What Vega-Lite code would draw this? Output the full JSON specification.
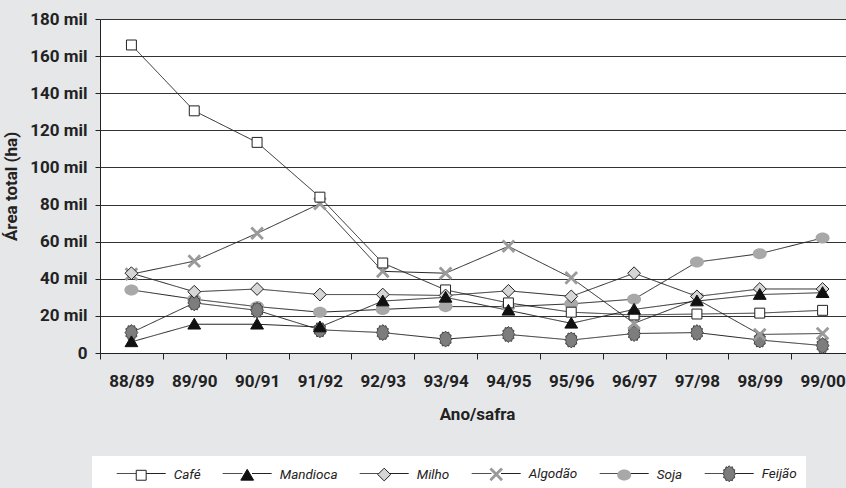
{
  "$schema": "https://vega.github.io/schema/vega-lite/v6.json",
  "width": 746,
  "height": 334,
  "autosize": {"type": "none"},
  "padding": {"left": 100, "top": 19, "right": 0, "bottom": 135},
  "background": "#e6e7e9",
  "config": {
    "view": {"fill": "white", "stroke": null},
    "font": "Roboto, sans-serif"
  },
  "data": {
    "values": [
      {"safra": "88/89", "cultura": "Soja", "area": 34},
      {"safra": "89/90", "cultura": "Soja", "area": 29},
      {"safra": "90/91", "cultura": "Soja", "area": 25},
      {"safra": "91/92", "cultura": "Soja", "area": 22},
      {"safra": "92/93", "cultura": "Soja", "area": 23.5},
      {"safra": "93/94", "cultura": "Soja", "area": 25},
      {"safra": "94/95", "cultura": "Soja", "area": 25},
      {"safra": "95/96", "cultura": "Soja", "area": 26.5},
      {"safra": "96/97", "cultura": "Soja", "area": 29},
      {"safra": "97/98", "cultura": "Soja", "area": 49},
      {"safra": "98/99", "cultura": "Soja", "area": 53.5},
      {"safra": "99/00", "cultura": "Soja", "area": 62},
      {"safra": "88/89", "cultura": "Feijão", "area": 11},
      {"safra": "89/90", "cultura": "Feijão", "area": 27},
      {"safra": "90/91", "cultura": "Feijão", "area": 23},
      {"safra": "91/92", "cultura": "Feijão", "area": 12.5},
      {"safra": "92/93", "cultura": "Feijão", "area": 11},
      {"safra": "93/94", "cultura": "Feijão", "area": 7.5},
      {"safra": "94/95", "cultura": "Feijão", "area": 10},
      {"safra": "95/96", "cultura": "Feijão", "area": 7},
      {"safra": "96/97", "cultura": "Feijão", "area": 10.5},
      {"safra": "97/98", "cultura": "Feijão", "area": 11},
      {"safra": "98/99", "cultura": "Feijão", "area": 7},
      {"safra": "99/00", "cultura": "Feijão", "area": 4},
      {"safra": "88/89", "cultura": "Algodão", "area": 42.5},
      {"safra": "89/90", "cultura": "Algodão", "area": 49.5},
      {"safra": "90/91", "cultura": "Algodão", "area": 64.5},
      {"safra": "91/92", "cultura": "Algodão", "area": 80.5},
      {"safra": "92/93", "cultura": "Algodão", "area": 44},
      {"safra": "93/94", "cultura": "Algodão", "area": 43},
      {"safra": "94/95", "cultura": "Algodão", "area": 57.5},
      {"safra": "95/96", "cultura": "Algodão", "area": 40.5},
      {"safra": "96/97", "cultura": "Algodão", "area": 16},
      {"safra": "97/98", "cultura": "Algodão", "area": 29},
      {"safra": "98/99", "cultura": "Algodão", "area": 10},
      {"safra": "99/00", "cultura": "Algodão", "area": 10.5},
      {"safra": "88/89", "cultura": "Café", "area": 166},
      {"safra": "89/90", "cultura": "Café", "area": 130.5},
      {"safra": "90/91", "cultura": "Café", "area": 113.5},
      {"safra": "91/92", "cultura": "Café", "area": 84},
      {"safra": "92/93", "cultura": "Café", "area": 48.5},
      {"safra": "93/94", "cultura": "Café", "area": 34},
      {"safra": "94/95", "cultura": "Café", "area": 27},
      {"safra": "95/96", "cultura": "Café", "area": 22},
      {"safra": "96/97", "cultura": "Café", "area": 20.5},
      {"safra": "97/98", "cultura": "Café", "area": 21},
      {"safra": "98/99", "cultura": "Café", "area": 21.5},
      {"safra": "99/00", "cultura": "Café", "area": 23},
      {"safra": "88/89", "cultura": "Milho", "area": 43},
      {"safra": "89/90", "cultura": "Milho", "area": 33},
      {"safra": "90/91", "cultura": "Milho", "area": 34.5},
      {"safra": "91/92", "cultura": "Milho", "area": 31.5},
      {"safra": "92/93", "cultura": "Milho", "area": 31.5},
      {"safra": "93/94", "cultura": "Milho", "area": 31},
      {"safra": "94/95", "cultura": "Milho", "area": 33.5},
      {"safra": "95/96", "cultura": "Milho", "area": 30.5},
      {"safra": "96/97", "cultura": "Milho", "area": 43},
      {"safra": "97/98", "cultura": "Milho", "area": 30.5},
      {"safra": "98/99", "cultura": "Milho", "area": 34.5},
      {"safra": "99/00", "cultura": "Milho", "area": 34.5},
      {"safra": "88/89", "cultura": "Mandioca", "area": 6},
      {"safra": "89/90", "cultura": "Mandioca", "area": 15.5},
      {"safra": "90/91", "cultura": "Mandioca", "area": 15.5},
      {"safra": "91/92", "cultura": "Mandioca", "area": 14},
      {"safra": "92/93", "cultura": "Mandioca", "area": 28},
      {"safra": "93/94", "cultura": "Mandioca", "area": 30},
      {"safra": "94/95", "cultura": "Mandioca", "area": 23},
      {"safra": "95/96", "cultura": "Mandioca", "area": 16},
      {"safra": "96/97", "cultura": "Mandioca", "area": 23.5},
      {"safra": "97/98", "cultura": "Mandioca", "area": 28},
      {"safra": "98/99", "cultura": "Mandioca", "area": 31.5},
      {"safra": "99/00", "cultura": "Mandioca", "area": 32.5}
    ]
  },
  "encoding": {
    "x": {
      "field": "safra",
      "type": "ordinal",
      "sort": ["88/89", "89/90", "90/91", "91/92", "92/93", "93/94", "94/95", "95/96", "96/97", "97/98", "98/99", "99/00"],
      "scale": {"type": "band", "paddingInner": 0, "paddingOuter": 0, "range": [0, 754]},
      "axis": {
        "title": "Ano/safra",
        "labelAngle": 0,
        "tickBand": "extent",
        "tickSize": 6,
        "labelPadding": 14,
        "domainColor": "#222",
        "tickColor": "#222",
        "grid": false,
        "labelFontSize": 17,
        "labelFontWeight": "bold",
        "labelColor": "#222",
        "titleFontSize": 17,
        "titleFontWeight": "bold",
        "titleColor": "#222",
        "titlePadding": 17
      }
    },
    "y": {
      "field": "area",
      "type": "quantitative",
      "scale": {"domain": [0, 180], "nice": false},
      "axis": {
        "values": [0, 20, 40, 60, 80, 100, 120, 140, 160, 180],
        "labelExpr": "datum.value == 0 ? '0' : datum.value + ' mil'",
        "title": "Área total (ha)",
        "grid": true,
        "gridColor": "#333",
        "domainColor": "#222",
        "tickColor": "#222",
        "tickSize": 5,
        "labelPadding": 8,
        "labelFontSize": 17,
        "labelFontWeight": "bold",
        "labelColor": "#222",
        "titleFontSize": 17,
        "titleFontWeight": "bold",
        "titleColor": "#222",
        "titlePadding": 9
      }
    }
  },
  "layer": [
    {
      "mark": {"type": "line", "color": "#222", "strokeWidth": 1},
      "encoding": {
        "strokeDash": {
          "field": "cultura",
          "type": "nominal",
          "sort": ["Café", "Mandioca", "Milho", "Algodão", "Soja", "Feijão"],
          "scale": {"range": [[1, 0], [1, 0], [1, 0], [1, 0], [1, 0], [1, 0]]},
          "legend": {
            "orient": "none",
            "legendX": -8,
            "legendY": 437,
            "direction": "horizontal",
            "title": " ",
            "titleOrient": "left",
            "titleFontSize": 1,
            "titlePadding": 31.7,
            "padding": 9,
            "fillColor": "white",
            "symbolType": "M-3.06,0H-0.6M0.6,0H3.06",
            "symbolSize": 256,
            "symbolStrokeColor": "#222",
            "symbolStrokeWidth": 1,
            "symbolFillColor": "transparent",
            "labelOffset": 24,
            "columnPadding": 20,
            "labelFontSize": 13.5,
            "labelFontStyle": "italic",
            "labelColor": "#222",
            "labelOpacity": 0
          }
        }
      }
    },
    {
      "mark": {"type": "point", "filled": true, "opacity": 1, "size": 256, "strokeWidth": 1},
      "encoding": {
        "shape": {
          "field": "cultura",
          "type": "nominal",
          "scale": {
            "domain": ["Café", "Mandioca", "Milho", "Algodão", "Soja", "Feijão"],
            "range": [
              "M-3.06,0L-3.06,0M3.06,0L3.06,0M-0.62,-0.62H0.62V0.62H-0.62Z",
              "M-3.06,0L-3.06,0M3.06,0L3.06,0M0,-0.75L0.8,0.6H-0.8Z",
              "M-3.06,0L-3.06,0M3.06,0L3.06,0M0,-0.8L0.8,0L0,0.8L-0.8,0Z",
              "M-3.06,0L-3.06,0M3.06,0L3.06,0M0,-0.25L0.6,-0.85L0.85,-0.6L0.25,0L0.85,0.6L0.6,0.85L0,0.25L-0.6,0.85L-0.85,0.6L-0.25,0L-0.85,-0.6L-0.6,-0.85Z",
              "M-3.06,0L-3.06,0M3.06,0L3.06,0M-0.875,0A0.875,0.69,0,1,0,0.875,0A0.875,0.69,0,1,0,-0.875,0Z",
              "M-3.06,0L-3.06,0M3.06,0L3.06,0M0.8,0L0.634,0.212L0.693,0.5L0.464,0.58L0.4,0.866L0.17,0.792L0,1L-0.17,0.792L-0.4,0.866L-0.464,0.58L-0.693,0.5L-0.634,0.212L-0.8,0L-0.634,-0.212L-0.693,-0.5L-0.464,-0.58L-0.4,-0.866L-0.17,-0.792L0,-1L0.17,-0.792L0.4,-0.866L0.464,-0.58L0.693,-0.5L0.634,-0.212Z"
            ]
          },
          "legend": {
            "orient": "none",
            "legendX": -8,
            "legendY": 437,
            "direction": "horizontal",
            "title": " ",
            "titleOrient": "left",
            "titleFontSize": 1,
            "titlePadding": 31.7,
            "padding": 9,
            "symbolSize": 256,
            "symbolStrokeWidth": 1,
            "symbolOpacity": 1,
            "labelOffset": 24,
            "columnPadding": 20,
            "labelFontSize": 13.5,
            "labelFontStyle": "italic",
            "labelColor": "#222"
          }
        },
        "fill": {
          "field": "cultura",
          "type": "nominal",
          "scale": {
            "domain": ["Café", "Mandioca", "Milho", "Algodão", "Soja", "Feijão"],
            "range": ["#ffffff", "#111111", "#d6d6d6", "#9a9a9a", "#a8a8a8", "#7d7d7d"]
          }
        },
        "stroke": {
          "field": "cultura",
          "type": "nominal",
          "scale": {
            "domain": ["Café", "Mandioca", "Milho", "Algodão", "Soja", "Feijão"],
            "range": ["#222222", "#111111", "#222222", "transparent", "transparent", "#444444"]
          }
        }
      }
    }
  ]
}
